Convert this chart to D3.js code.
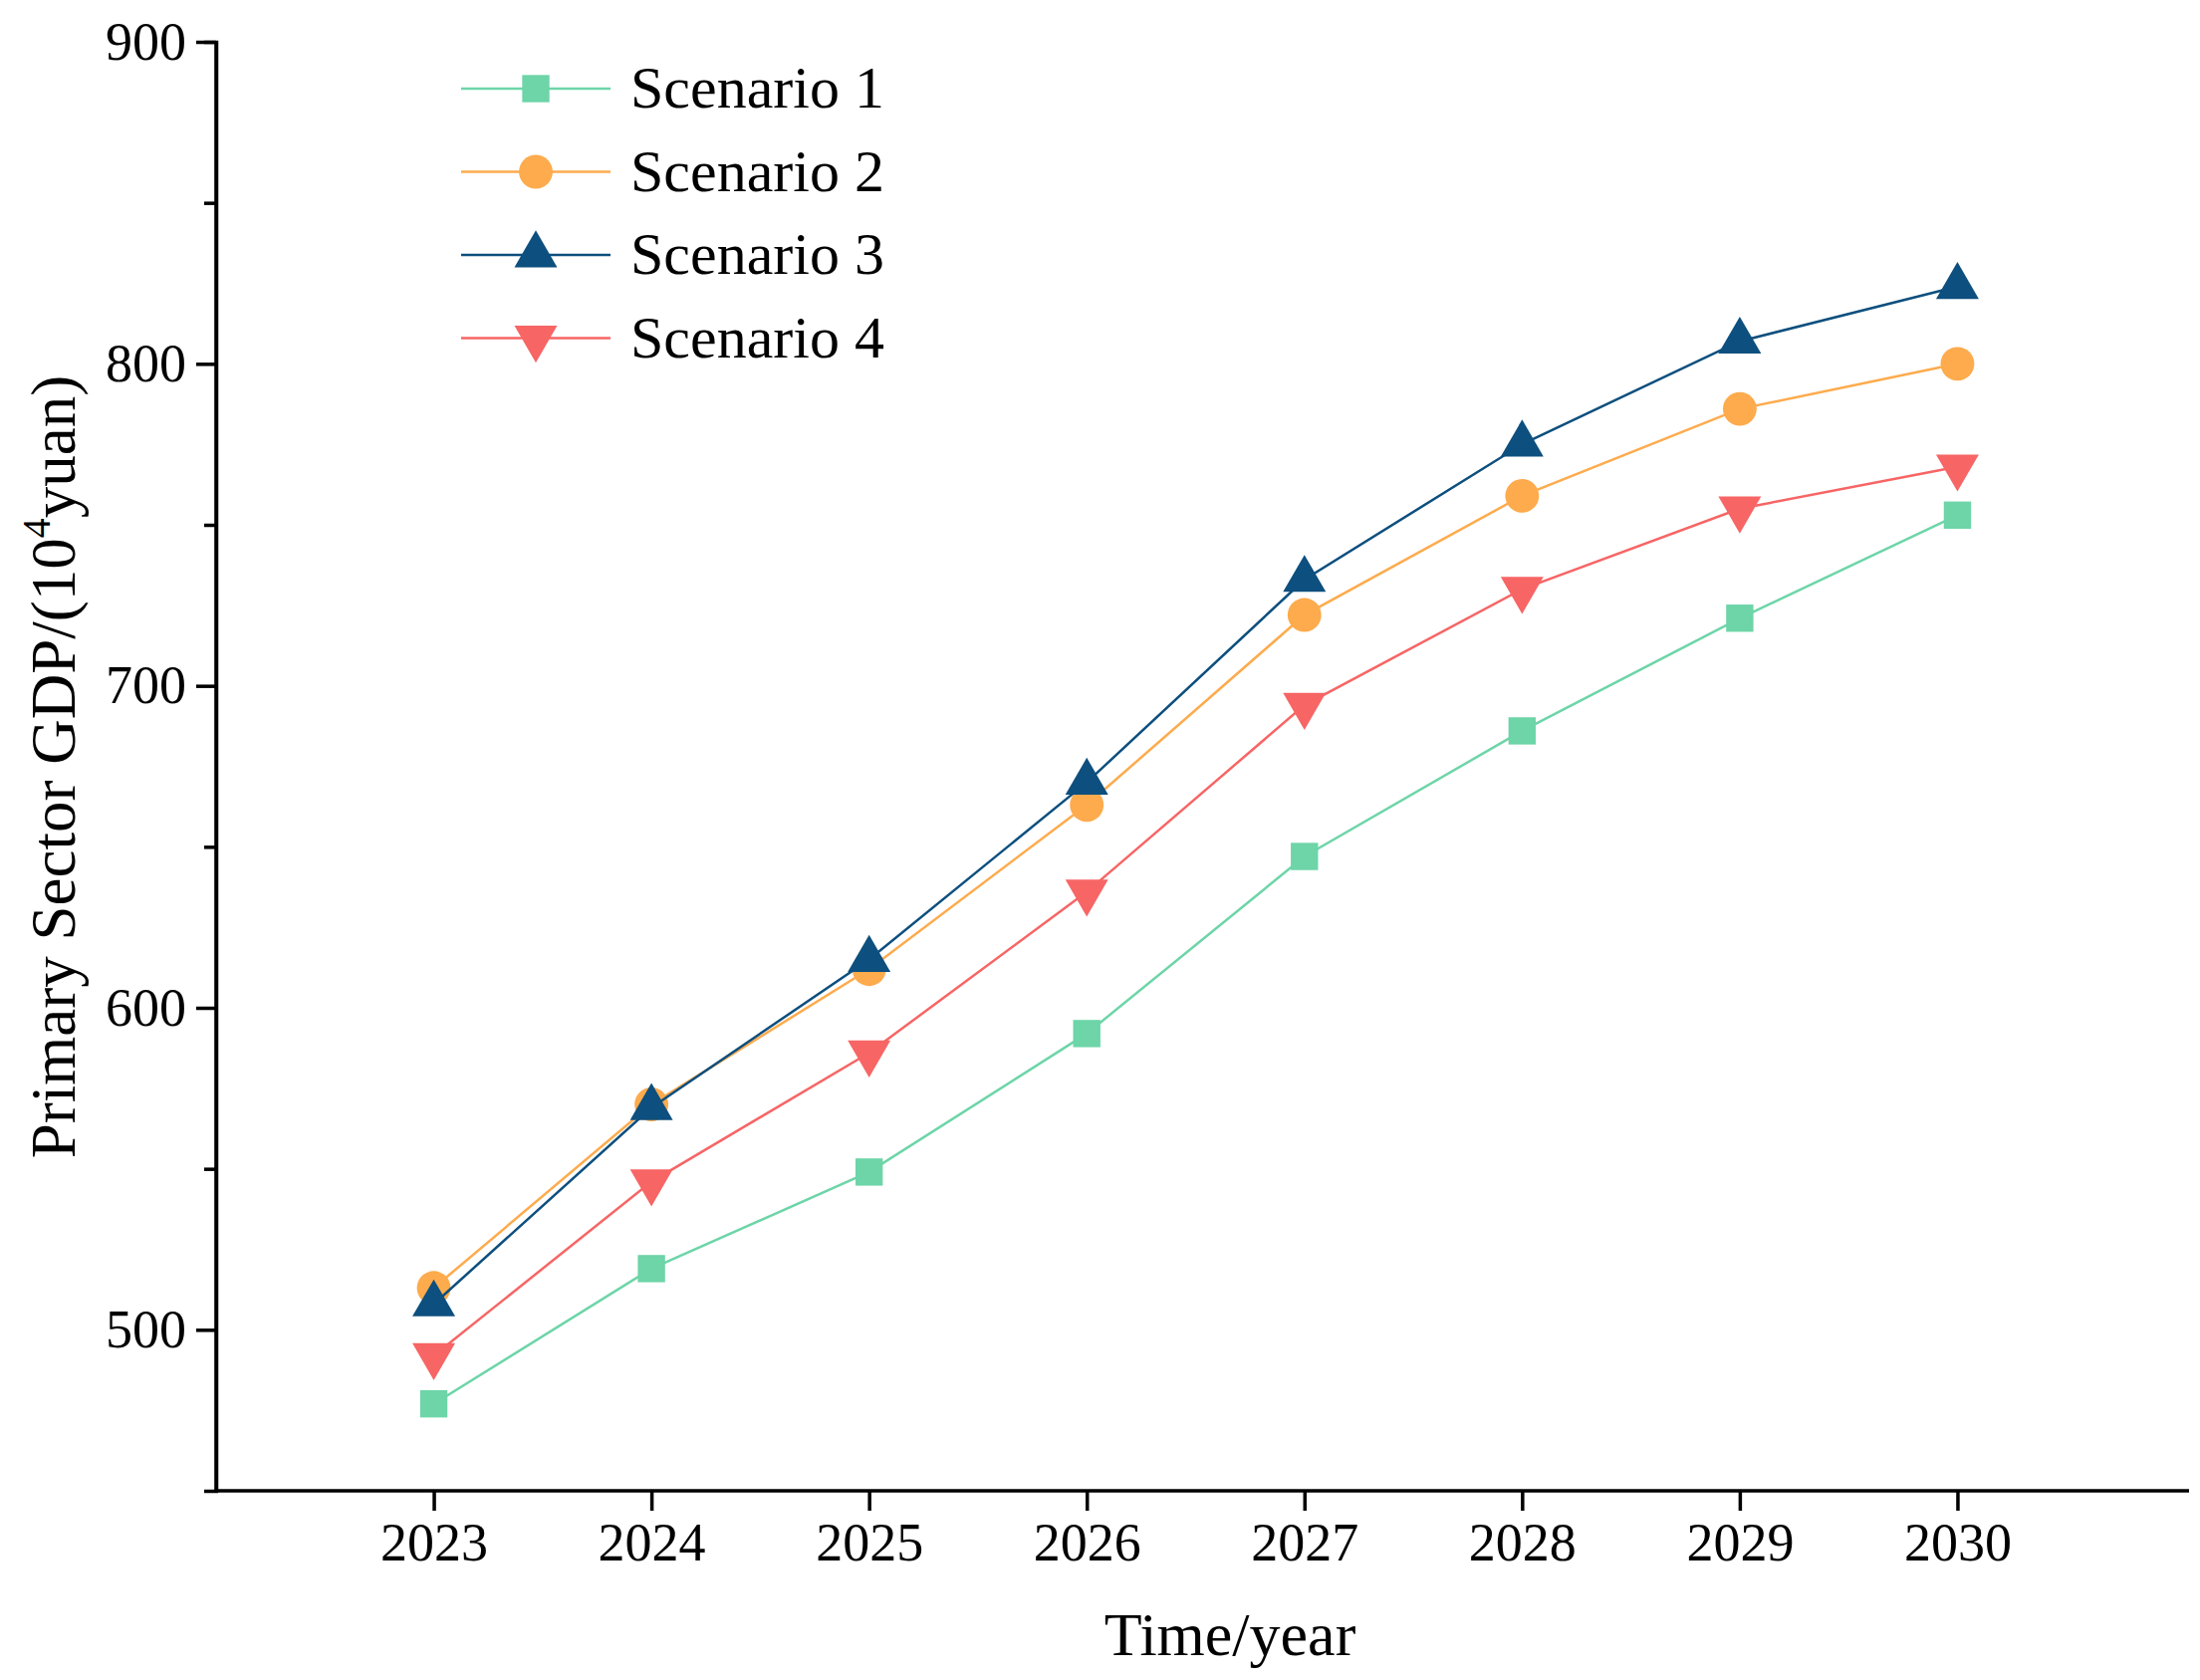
<!DOCTYPE html><html><head><meta charset="utf-8"><script src="https://cdn.jsdelivr.net/npm/d3@7"></script>
<style>body{margin:0;background:#fff}</style></head><body><svg id="c" width="2209" height="1687"></svg>
<script>
const years=[2023,2024,2025,2026,2027,2028,2029,2030];
const scenario1=[477,519,549,592,647,686,721,753];
const scenario2=[513,570,612,663,722,759,786,800];
const scenario3=[508,569,615,670,733,775,807,824];
const scenario4=[492,546,586,636,694,730,755,768];
const names=["Scenario 1","Scenario 2","Scenario 3","Scenario 4"];
const colors=["#6dd5a8","#fdab4d","#0d4f7e","#f76565"];
const symbols=[d3.symbolSquare,d3.symbolCircle,d3.symbolTriangle,"down"];
const series=[scenario1,scenario2,scenario3,scenario4];
const svg=d3.select("#c"),F="'Liberation Serif','Times New Roman',serif";
const x=d3.scaleLinear().domain([2022,2031]).range([217,2184]);
const y=d3.scaleLinear().domain([450,900]).range([1497,42]);
const gx=svg.append("g").attr("transform","translate(0,1497)").call(d3.axisBottom(x).tickValues(years).tickFormat(d3.format("d")).tickSize(20).tickPadding(12));
const gy=svg.append("g").attr("transform","translate(217,0)").call(d3.axisLeft(y).tickValues([500,600,700,800,900]).tickSize(20).tickPadding(10));
svg.append("g").attr("transform","translate(217,0)").call(d3.axisLeft(y).tickValues([550,650,750,850]).tickSize(12).tickFormat(""));
svg.selectAll(".domain,.tick line").attr("stroke","#000").attr("stroke-width",3.5);
svg.selectAll(".tick text").attr("font-family",F).attr("font-size",54).attr("fill","#000");
gx.select(".domain").attr("d","M217,0H2198");gy.select(".domain").attr("d","M0,1497V42");
svg.append("text").attr("x",1235).attr("y",1662).attr("text-anchor","middle").attr("font-family",F).attr("font-size",62).text("Time/year");
const yl=svg.append("text").attr("transform","translate(75,770) rotate(-90)").attr("text-anchor","middle").attr("font-family",F).attr("font-size",63);
yl.append("tspan").text("Primary Sector GDP/(10");yl.append("tspan").attr("font-size",40).attr("dy",-25).text("4");yl.append("tspan").attr("dy",25).text("yuan)");
function sym(i,s){return i===3?d3.symbol().type(d3.symbolTriangle).size(s)():d3.symbol().type(symbols[i]).size(s)();}
const line=d3.line().x((d,j)=>x(years[j])).y(d=>y(d));
series.forEach((s,i)=>{
 svg.append("path").attr("d",line(s)).attr("fill","none").attr("stroke",colors[i]).attr("stroke-width",2.5);
 svg.selectAll(null).data(s).enter().append("path").attr("d",sym(i,i===1?900:(i===0?750:800)))
  .attr("transform",(d,j)=>`translate(${x(years[j])},${y(d)})`+(i===3?" rotate(180)":"")).attr("fill",colors[i]);
});
names.forEach((n,i)=>{
 const yy=89+i*83.5;
 svg.append("line").attr("x1",463).attr("x2",613).attr("y1",yy).attr("y2",yy).attr("stroke",colors[i]).attr("stroke-width",2.5);
 svg.append("path").attr("d",sym(i,i===1?900:(i===0?750:800))).attr("transform",`translate(538,${yy})`+(i===3?" rotate(180)":"")).attr("fill",colors[i]);
 svg.append("text").attr("x",633).attr("y",yy+19).attr("font-family",F).attr("font-size",60).text(n);
});
</script></body></html>
